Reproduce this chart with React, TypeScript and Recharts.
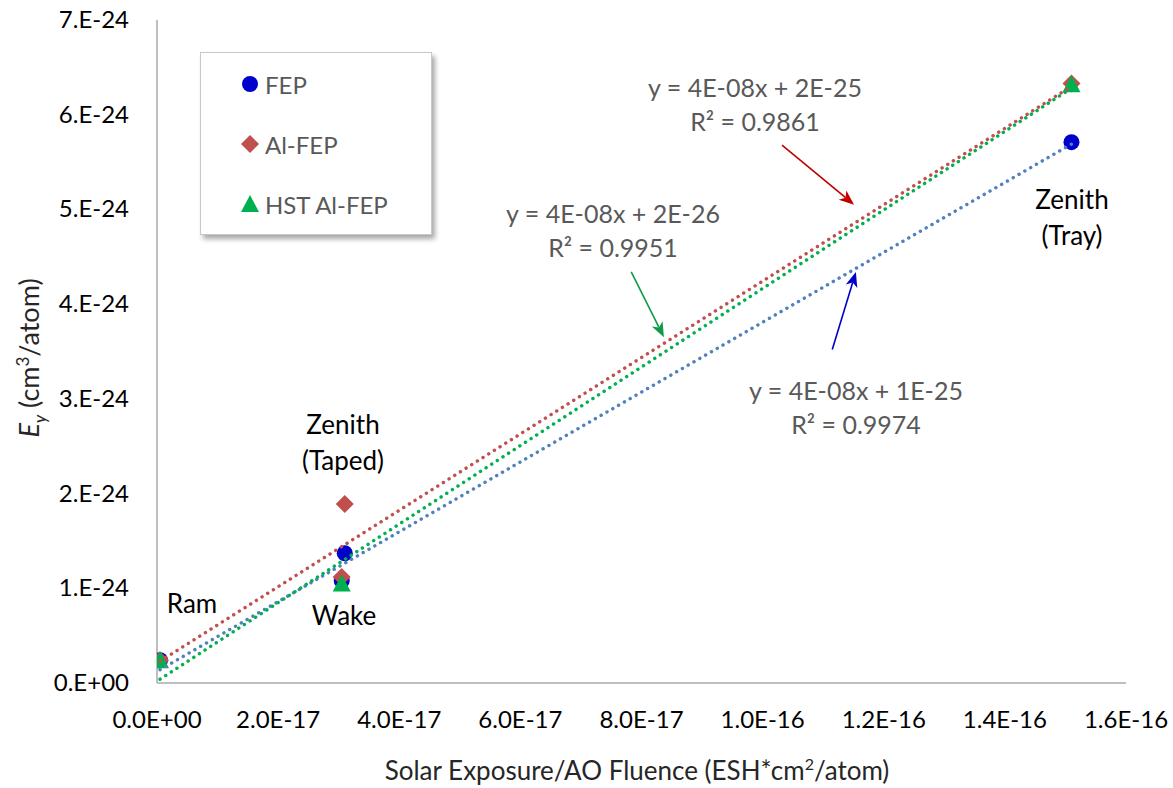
import React from 'react'
import {
  ScatterChart,
  Scatter,
  XAxis,
  YAxis,
  ReferenceLine,
} from 'recharts'

// tick positions and labels
const xTicks = [0, 2e-17, 4e-17, 6e-17, 8e-17, 1e-16, 1.2e-16, 1.4e-16, 1.6e-16]
const xTickLabels = ['0.0E+00', '2.0E-17', '4.0E-17', '6.0E-17', '8.0E-17', '1.0E-16', '1.2E-16', '1.4E-16', '1.6E-16']
const yTicks = [0, 1e-24, 2e-24, 3e-24, 4e-24, 5e-24, 6e-24, 7e-24]
const yTickLabels = ['0.E+00', '1.E-24', '2.E-24', '3.E-24', '4.E-24', '5.E-24', '6.E-24', '7.E-24']

// measured points (Ram, Zenith taped, Wake, Zenith tray)
const fepX = [5e-19, 3.1e-17, 3.05e-17, 1.51e-16]
const fepY = [2.4e-25, 1.37e-24, 1.08e-24, 5.71e-24]
const alFepX = [5e-19, 3.1e-17, 3.05e-17, 1.51e-16]
const alFepY = [2.4e-25, 1.89e-24, 1.12e-24, 6.33e-24]
const hstX = [5e-19, 3.05e-17, 1.51e-16]
const hstY = [2.3e-25, 1.04e-24, 6.31e-24]

// linear trendline ends
const trendX = [5e-19, 1.51e-16]
const fepTrendY = [1.4e-25, 5.69e-24]
const alFepTrendY = [2.3e-25, 6.3e-24]
const hstTrendY = [4e-26, 6.28e-24]

const toPoints = (xs: number[], ys: number[]) => xs.map((x, i) => ({ x, y: ys[i] }))

const fepData = toPoints(fepX, fepY)
const alFepData = toPoints(alFepX, alFepY)
const hstData = toPoints(hstX, hstY)
const fepTrend = toPoints(trendX, fepTrendY)
const alFepTrend = toPoints(trendX, alFepTrendY)
const hstTrend = toPoints(trendX, hstTrendY)

const BLUE = '#0000CC'
const RED = '#C0504D'
const GREEN = '#00B050'
const FONT = 'Lato, "Open Sans", sans-serif'
const TICK_SIZE = 24

const Circle = (p: any) => <circle cx={p.cx} cy={p.cy} r={8} fill={BLUE} />
const Diamond = (p: any) => (
  <polygon
    points={`${p.cx},${p.cy - 9} ${p.cx + 9},${p.cy} ${p.cx},${p.cy + 9} ${p.cx - 9},${p.cy}`}
    fill={RED}
  />
)
const Triangle = (p: any) => (
  <polygon
    points={`${p.cx},${p.cy - 10} ${p.cx + 9},${p.cy + 7} ${p.cx - 9},${p.cy + 7}`}
    fill={GREEN}
  />
)
const Nothing = () => <g />

const XTick = (p: any) => (
  <text x={p.x} y={p.y} dy={17} textAnchor="middle" fill="#000" fontSize={TICK_SIZE} fontFamily={FONT}>
    {xTickLabels[p.index]}
  </text>
)
const YTick = (p: any) => (
  <text x={p.x} y={p.y} dy={8} textAnchor="end" fill="#000" fontSize={TICK_SIZE} fontFamily={FONT}>
    {yTickLabels[p.index]}
  </text>
)

const Arrow = (p: any) => {
  const { x1, y1, x2, y2, stroke } = p
  const dx = x2 - x1
  const dy = y2 - y1
  const len = Math.hypot(dx, dy) || 1
  const ux = dx / len
  const uy = dy / len
  const bx = x2 - ux * 15
  const by = y2 - uy * 15
  const nx = x2 - ux * 11
  const ny = y2 - uy * 11
  const pts = `${x2},${y2} ${bx - uy * 6},${by + ux * 6} ${nx},${ny} ${bx + uy * 6},${by - ux * 6}`
  return (
    <g>
      <line x1={x1} y1={y1} x2={nx} y2={ny} stroke={stroke} strokeWidth={1.6} />
      <polygon points={pts} fill={stroke} />
    </g>
  )
}

const dotted = (color: string) => ({
  stroke: color,
  strokeWidth: 3.4,
  strokeDasharray: '0.1 6.6',
  strokeLinecap: 'round' as const,
})

const gray: React.CSSProperties = {
  position: 'absolute',
  color: '#595959',
  fontFamily: FONT,
  fontSize: 25,
  textAlign: 'center',
  lineHeight: '34px',
  whiteSpace: 'nowrap',
  transform: 'translateX(-50%)',
}
const black: React.CSSProperties = { ...gray, color: '#000', fontSize: 26, lineHeight: '36px' }

export default function App() {
  return (
    <div style={{ position: 'absolute', left: 0, top: 0, width: 1173, height: 788, background: '#fff' }}>
      <ScatterChart width={1173} height={788} margin={{ top: 20, right: 47, bottom: 0, left: 0 }}>
        <XAxis
          type="number"
          dataKey="x"
          domain={[0, 1.6e-16]}
          ticks={xTicks}
          height={105}
          axisLine={{ stroke: '#BFBFBF', strokeWidth: 2 }}
          tickLine={false}
          tickSize={0}
          tickMargin={28}
          tick={XTick}
          interval={0}
          allowDataOverflow
        />
        <YAxis
          type="number"
          dataKey="y"
          domain={[0, 7e-24]}
          ticks={yTicks}
          width={157}
          axisLine={{ stroke: '#BFBFBF', strokeWidth: 2 }}
          tickLine={false}
          tickSize={0}
          tickMargin={28}
          tick={YTick}
          interval={0}
          allowDataOverflow
        />
        <Scatter name="FEP" data={fepData} shape={Circle} isAnimationActive={false} />
        <Scatter name="Al-FEP" data={alFepData} shape={Diamond} isAnimationActive={false} />
        <Scatter name="HST Al-FEP" data={hstData} shape={Triangle} isAnimationActive={false} />
        <Scatter data={fepTrend} line={dotted('#4F81BD')} shape={Nothing} isAnimationActive={false} />
        <Scatter data={hstTrend} line={dotted(GREEN)} shape={Nothing} isAnimationActive={false} />
        <Scatter data={alFepTrend} line={dotted(RED)} shape={Nothing} isAnimationActive={false} />
        <ReferenceLine
          segment={[{ x: 1.032e-16, y: 5.68e-24 }, { x: 1.151e-16, y: 5.05e-24 }]}
          stroke="#C00000"
          ifOverflow="visible"
          shape={Arrow}
        />
        <ReferenceLine
          segment={[{ x: 7.83e-17, y: 4.34e-24 }, { x: 8.37e-17, y: 3.65e-24 }]}
          stroke="#109A46"
          ifOverflow="visible"
          shape={Arrow}
        />
        <ReferenceLine
          segment={[{ x: 1.115e-16, y: 3.52e-24 }, { x: 1.154e-16, y: 4.34e-24 }]}
          stroke={BLUE}
          ifOverflow="visible"
          shape={Arrow}
        />
      </ScatterChart>

      {/* legend */}
      <div
        style={{
          position: 'absolute',
          left: 200,
          top: 52,
          width: 230,
          height: 181,
          border: '1px solid #C8C8C8',
          background: '#fff',
          boxShadow: '3px 4px 5px rgba(0,0,0,0.35)',
          fontFamily: FONT,
          fontSize: 24,
          color: '#595959',
        }}
      >
        {[
          { label: 'FEP', mark: <circle cx={9} cy={9} r={8} fill={BLUE} /> },
          { label: 'Al-FEP', mark: <polygon points="9,0 18,9 9,18 0,9" fill={RED} /> },
          { label: 'HST Al-FEP', mark: <polygon points="9,0 18,17 0,17" fill={GREEN} /> },
        ].map((it, i) => (
          <div
            key={it.label}
            style={{ position: 'absolute', left: 40, top: 15 + i * 60, height: 32, display: 'flex', alignItems: 'center' }}
          >
            <svg width={18} height={18} style={{ marginRight: 6 }}>
              {it.mark}
            </svg>
            <span>{it.label}</span>
          </div>
        ))}
      </div>

      {/* trendline equations */}
      <div style={{ ...gray, left: 755, top: 70 }}>
        y = 4E-08x + 2E-25
        <br />
        R² = 0.9861
      </div>
      <div style={{ ...gray, left: 613, top: 196 }}>
        y = 4E-08x + 2E-26
        <br />
        R² = 0.9951
      </div>
      <div style={{ ...gray, left: 856, top: 373 }}>
        y = 4E-08x + 1E-25
        <br />
        R² = 0.9974
      </div>

      {/* point labels */}
      <div style={{ ...black, left: 1072, top: 181 }}>
        Zenith
        <br />
        (Tray)
      </div>
      <div style={{ ...black, left: 343, top: 406 }}>
        Zenith
        <br />
        (Taped)
      </div>
      <div style={{ ...black, left: 192, top: 585 }}>Ram</div>
      <div style={{ ...black, left: 344, top: 597 }}>Wake</div>

      {/* axis titles */}
      <div
        style={{
          position: 'absolute',
          left: 637,
          top: 754,
          transform: 'translateX(-50%)',
          whiteSpace: 'nowrap',
          fontFamily: FONT,
          fontSize: 26,
          color: '#262626',
        }}
      >
        Solar Exposure/AO Fluence (ESH*cm<sup style={{ fontSize: 16 }}>2</sup>/atom)
      </div>
      <div
        style={{
          position: 'absolute',
          left: 31,
          top: 358,
          transform: 'translate(-50%, -50%) rotate(-90deg)',
          whiteSpace: 'nowrap',
          fontFamily: FONT,
          fontSize: 27,
          color: '#262626',
        }}
      >
        <i>E</i>
        <sub style={{ fontSize: 17, fontStyle: 'italic' }}>y</sub> (cm<sup style={{ fontSize: 17 }}>3</sup>/atom)
      </div>
    </div>
  )
}
